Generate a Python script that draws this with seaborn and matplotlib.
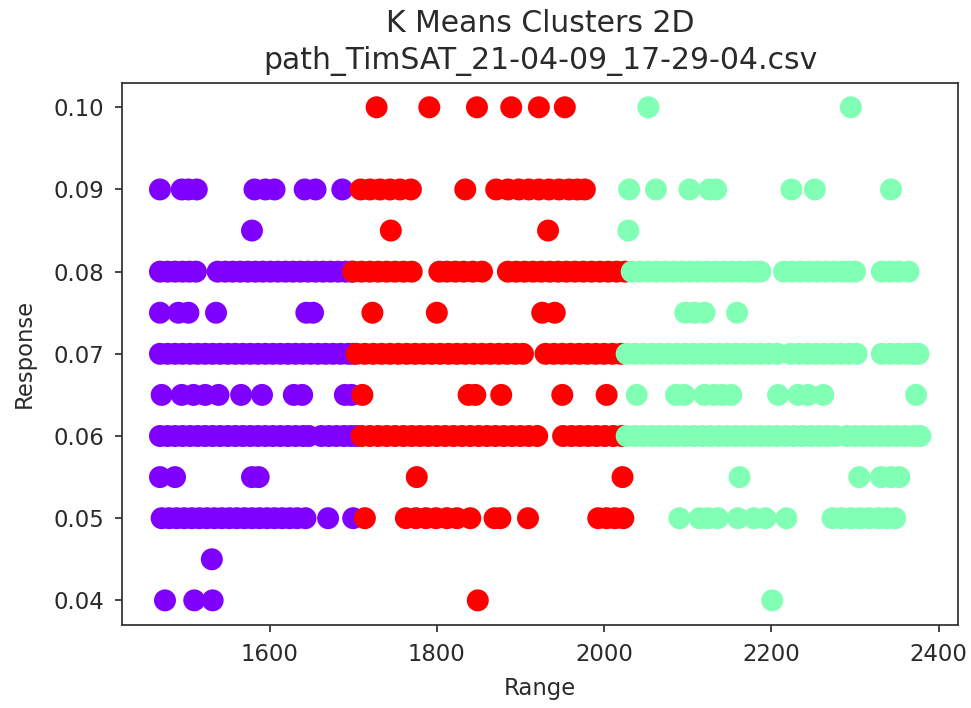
import matplotlib
matplotlib.use("Agg")
import matplotlib.pyplot as plt
import numpy as np
import pandas as pd
import seaborn as sns

# Range values at each response level, split by k-means cluster.
# cluster 0 (low range)
c0_090 = [1469, 1495, 1503, 1513, 1582, 1595, 1606, 1642, 1655, 1687]
c0_085 = [1579]
c0_080 = [1469, 1478, 1487, 1496, 1504, 1512, 1538, 1547, 1556, 1565, 1574,
          1583, 1592, 1601, 1610, 1619, 1628, 1637, 1646, 1655, 1664, 1673,
          1682, 1691, 1698]
c0_075 = [1469, 1491, 1503, 1536, 1644, 1652]
c0_070 = [1469, 1478, 1487, 1496, 1505, 1514, 1523, 1532, 1541, 1550, 1559,
          1568, 1577, 1586, 1595, 1604, 1613, 1622, 1631, 1640, 1649, 1658,
          1667, 1676, 1685, 1694, 1700]
c0_065 = [1471, 1495, 1509, 1523, 1539, 1566, 1591, 1629, 1639, 1690, 1698]
c0_060 = [1469, 1478, 1487, 1496, 1505, 1514, 1523, 1532, 1541, 1550, 1559,
          1568, 1577, 1586, 1595, 1604, 1613, 1622, 1631, 1640, 1647, 1662,
          1671, 1680, 1689, 1697, 1704]
c0_055 = [1469, 1487, 1579, 1587]
c0_050 = [1471, 1480, 1489, 1498, 1507, 1516, 1525, 1534, 1543, 1552, 1561,
          1570, 1579, 1588, 1597, 1606, 1615, 1624, 1633, 1643, 1670, 1700]
c0_045 = [1531]
c0_040 = [1475, 1510, 1532]

# cluster 1 (high range)
c1_100 = [2053, 2295]
c1_090 = [2030, 2062, 2102, 2126, 2134, 2224, 2252, 2343]
c1_085 = [2029]
c1_080 = [2033, 2043, 2053, 2063, 2073, 2083, 2093, 2103, 2113, 2123, 2133,
          2143, 2153, 2163, 2173, 2180, 2187, 2215, 2225, 2235, 2245, 2255,
          2265, 2275, 2285, 2293, 2300, 2332, 2342, 2352, 2364]
c1_075 = [2097, 2108, 2120, 2159]
c1_070 = [2027, 2037, 2047, 2057, 2067, 2077, 2087, 2097, 2107, 2117, 2127,
          2137, 2147, 2157, 2167, 2177, 2187, 2197, 2207, 2223, 2233, 2243,
          2253, 2263, 2273, 2283, 2293, 2302, 2332, 2342, 2352, 2362, 2370,
          2376]
c1_065 = [2039, 2086, 2096, 2120, 2132, 2141, 2152, 2208, 2232, 2244, 2262,
          2373]
c1_060 = [2027, 2037, 2047, 2057, 2067, 2077, 2087, 2097, 2107, 2117, 2127,
          2137, 2147, 2157, 2167, 2177, 2187, 2197, 2207, 2217, 2227, 2237,
          2247, 2257, 2267, 2277, 2290, 2300, 2310, 2320, 2330, 2340, 2350,
          2360, 2370, 2378]
c1_055 = [2162, 2305, 2331, 2343, 2353]
c1_050 = [2090, 2114, 2124, 2136, 2160, 2179, 2193, 2218, 2273, 2284, 2295,
          2306, 2317, 2328, 2338, 2348]
c1_040 = [2201]

# cluster 2 (middle range)
c2_100 = [1728, 1791, 1848, 1889, 1922, 1953]
c2_090 = [1709, 1720, 1732, 1744, 1756, 1769, 1834, 1871, 1885, 1898, 1910,
          1922, 1934, 1946, 1958, 1968, 1977]
c2_085 = [1745, 1933]
c2_080 = [1700, 1710, 1720, 1730, 1740, 1750, 1760, 1770, 1803, 1812, 1822,
          1832, 1843, 1854, 1885, 1895, 1905, 1915, 1925, 1935, 1945, 1955,
          1965, 1975, 1985, 1995, 2005, 2015, 2025]
c2_075 = [1723, 1800, 1926, 1941]
c2_070 = [1704, 1714, 1724, 1734, 1744, 1754, 1764, 1774, 1784, 1794, 1804,
          1814, 1824, 1834, 1844, 1854, 1864, 1874, 1884, 1894, 1903, 1930,
          1940, 1950, 1960, 1970, 1980, 1990, 2000, 2010, 2020]
c2_065 = [1711, 1838, 1846, 1877, 1950, 2003]
c2_060 = [1710, 1720, 1730, 1740, 1750, 1760, 1770, 1780, 1790, 1800, 1810,
          1820, 1830, 1840, 1850, 1860, 1870, 1880, 1890, 1900, 1910, 1920,
          1951, 1961, 1971, 1981, 1991, 2001, 2011, 2021]
c2_055 = [1776, 2022]
c2_050 = [1714, 1763, 1775, 1787, 1799, 1812, 1824, 1840, 1869, 1876, 1909,
          1993, 2003, 2013, 2023]
c2_040 = [1849]

groups = [
    (0, 0.090, c0_090), (0, 0.085, c0_085), (0, 0.080, c0_080),
    (0, 0.075, c0_075), (0, 0.070, c0_070), (0, 0.065, c0_065),
    (0, 0.060, c0_060), (0, 0.055, c0_055), (0, 0.050, c0_050),
    (0, 0.045, c0_045), (0, 0.040, c0_040),
    (2, 0.100, c2_100), (2, 0.090, c2_090), (2, 0.085, c2_085),
    (2, 0.080, c2_080), (2, 0.075, c2_075), (2, 0.070, c2_070),
    (2, 0.065, c2_065), (2, 0.060, c2_060), (2, 0.055, c2_055),
    (2, 0.050, c2_050), (2, 0.040, c2_040),
    (1, 0.100, c1_100), (1, 0.090, c1_090), (1, 0.085, c1_085),
    (1, 0.080, c1_080), (1, 0.075, c1_075), (1, 0.070, c1_070),
    (1, 0.065, c1_065), (1, 0.060, c1_060), (1, 0.055, c1_055),
    (1, 0.050, c1_050), (1, 0.040, c1_040),
]

frames = [pd.DataFrame({"Range": xs, "Response": resp, "cluster": lab})
          for lab, resp, xs in groups]
df = pd.concat(frames, ignore_index=True)

# rainbow colormap sampled at the three normalised label values
cmap = plt.get_cmap("rainbow")
palette = {0: cmap(0.0), 1: cmap(0.5), 2: cmap(1.0)}

sns.set_style("ticks")
plt.rcParams["font.family"] = ["DejaVu Sans"]

fig = plt.figure(figsize=(9.71, 7.08), dpi=100)
ax = fig.add_axes([0.1256, 0.1172, 0.8613, 0.7661])

sns.scatterplot(data=df, x="Range", y="Response", hue="cluster",
                palette=palette, s=250, linewidth=0, alpha=1.0,
                legend=False, ax=ax)

ax.set_xticks([1600, 1800, 2000, 2200, 2400])
ax.set_yticks([0.04, 0.05, 0.06, 0.07, 0.08, 0.09, 0.10])
ax.set_yticklabels(["0.04", "0.05", "0.06", "0.07", "0.08", "0.09", "0.10"])
ax.margins(x=0.05, y=0.05)

text_col = "#2a2a2a"
ax.tick_params(axis="both", labelsize=16.4, length=5.2, width=1.27,
               pad=7.5, color="#333333", labelcolor=text_col)
for sp in ax.spines.values():
    sp.set_linewidth(1.27)
    sp.set_color("#333333")

ax.set_xlabel("Range", fontsize=16.4, labelpad=8.5, color=text_col)
ax.set_ylabel("Response", fontsize=16.4, labelpad=13, color=text_col)
ax.set_title("K Means Clusters 2D\npath_TimSAT_21-04-09_17-29-04.csv",
             fontsize=21.5, pad=9.5, color=text_col, linespacing=1.35)

fig.savefig("out.png", dpi=100)
